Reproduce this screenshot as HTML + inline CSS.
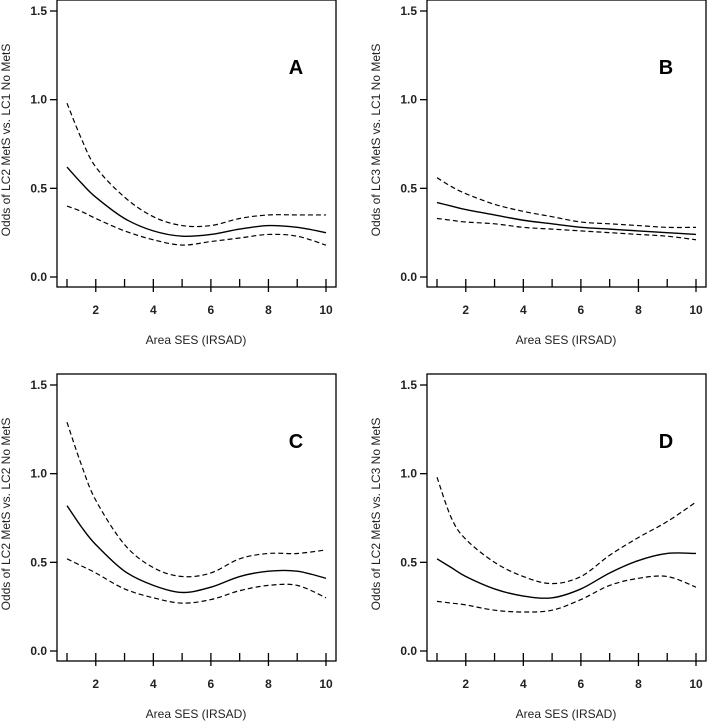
<!DOCTYPE html>
<html><head><meta charset="utf-8"><style>
html,body{margin:0;padding:0;background:#fff;}
svg{display:block;font-family:"Liberation Sans",Arial,sans-serif;}
</style></head><body>
<svg id="chart" width="708" height="721" viewBox="0 0 708 721"></svg>
<script>
const xs = [1,1.5,2,3,4,5,6,7,8,9,10];
const meanA = [0.62,0.53,0.45,0.33,0.26,0.23,0.24,0.27,0.29,0.28,0.25];
const upA   = [0.98,0.78,0.62,0.45,0.34,0.29,0.29,0.33,0.35,0.35,0.35];
const loA   = [0.40,0.37,0.33,0.26,0.21,0.18,0.20,0.22,0.24,0.23,0.18];
const meanB = [0.42,0.40,0.38,0.35,0.32,0.30,0.28,0.27,0.26,0.25,0.24];
const upB   = [0.56,0.51,0.47,0.41,0.37,0.34,0.31,0.30,0.29,0.28,0.28];
const loB   = [0.33,0.32,0.31,0.30,0.28,0.27,0.26,0.25,0.24,0.23,0.21];
const meanC = [0.82,0.70,0.60,0.45,0.37,0.33,0.36,0.42,0.45,0.45,0.41];
const upC   = [1.29,1.05,0.85,0.60,0.47,0.42,0.44,0.52,0.55,0.55,0.57];
const loC   = [0.52,0.48,0.44,0.35,0.30,0.27,0.29,0.34,0.37,0.37,0.30];
const meanD = [0.52,0.47,0.42,0.35,0.31,0.30,0.35,0.44,0.51,0.55,0.55];
const upD   = [0.98,0.75,0.63,0.50,0.42,0.38,0.42,0.54,0.64,0.73,0.84];
const loD   = [0.28,0.27,0.26,0.23,0.22,0.23,0.29,0.37,0.41,0.42,0.36];
const xTicks = [2,4,6,8,10];
const xMinor = [1,2,3,4,5,6,7,8,9,10];
const yTicks = [0.0,0.5,1.0,1.5];
const yTickLabels = ["0.0","0.5","1.0","1.5"];
const panelLetters = ["A","B","C","D"];
const yTitles = ["Odds of LC2 MetS vs. LC1 No MetS","Odds of LC3 MetS vs. LC1 No MetS","Odds of LC2 MetS vs. LC2 No MetS","Odds of LC2 MetS vs. LC3 No MetS"];

const NS="http://www.w3.org/2000/svg";
const svg=document.getElementById('chart');
function mk(tag,attrs,parent){const e=document.createElementNS(NS,tag);for(const k in attrs)e.setAttribute(k,attrs[k]);(parent||svg).appendChild(e);return e;}

const panels=[
 {dx:0,dy:0,mean:meanA,up:upA,lo:loA},
 {dx:370,dy:0,mean:meanB,up:upB,lo:loB},
 {dx:0,dy:374,mean:meanC,up:upC,lo:loC},
 {dx:370,dy:374,mean:meanD,up:upD,lo:loD}
];

function pathFor(vals,X,Y){
  const p=xs.map((x,i)=>[X(x),Y(vals[i])]);
  let d=`M${p[0][0]},${p[0][1]}`;
  for(let i=0;i<p.length-1;i++){
    const p0=p[Math.max(0,i-1)],p1=p[i],p2=p[i+1],p3=p[Math.min(p.length-1,i+2)];
    const c1=[p1[0]+(p2[0]-p0[0])/6,p1[1]+(p2[1]-p0[1])/6];
    const c2=[p2[0]-(p3[0]-p1[0])/6,p2[1]-(p3[1]-p1[1])/6];
    d+=` C${c1[0]},${c1[1]} ${c2[0]},${c2[1]} ${p2[0]},${p2[1]}`;
  }
  return d;
}

panels.forEach((P,pi)=>{
  const g=mk('g',{transform:`translate(${P.dx},${P.dy})`});
  
  
  const X=x=>67+(x-1)*(326-67)/9;
  const Y=y=>277-y*(266/1.5);
  const top=0,bottom=287,left=57,right=336;
  const box=mk('rect',{x:left,y:top,width:right-left,height:bottom-top,fill:'none',stroke:'#000','stroke-width':1.3},g);
  
  
  xMinor.forEach(t=>{
    const l=mk('line',{x1:X(t),x2:X(t),y1:bottom-8,y2:bottom,stroke:'#000','stroke-width':1.3},g);
    
    
  });
  xTicks.forEach(t=>{
    const l=mk('line',{x1:X(t),x2:X(t),y1:bottom,y2:bottom+5,stroke:'#000','stroke-width':1.3},g);
    
    
    const tx=mk('text',{x:X(t),y:314,'text-anchor':'middle','font-size':12,'font-weight':'bold',fill:'#222'},g);
    tx.textContent=t;
    
    
  });
  yTicks.forEach((t,i)=>{
    const l=mk('line',{x1:left-7,x2:left,y1:Y(t),y2:Y(t),stroke:'#000','stroke-width':1.3},g);
    
    
    const tx=mk('text',{x:left-10,y:Y(t)+4,'text-anchor':'end','font-size':12,'font-weight':'bold',fill:'#222'},g);
    tx.textContent=yTickLabels[i];
    
    
  });
  const xt=mk('text',{x:196,y:344,'text-anchor':'middle','font-size':12,fill:'#222'},g);
  xt.textContent='Area SES (IRSAD)';
  
  
  const yt=mk('text',{x:0,y:0,'text-anchor':'middle','font-size':12,fill:'#222',transform:`translate(${pi%2?10:10},140) rotate(-90)`},g);
  yt.textContent=yTitles[pi];
  
  
  const lt=mk('text',{x:296,y:74,'text-anchor':'middle','font-size':20,'font-weight':'bold',fill:'#000'},g);
  lt.textContent=panelLetters[pi];
  
  
  const u=mk('path',{d:pathFor(P.up,X,Y),fill:'none',stroke:'#000','stroke-width':1.2,'stroke-dasharray':'5,3'},g);
  
  
  const lo=mk('path',{d:pathFor(P.lo,X,Y),fill:'none',stroke:'#000','stroke-width':1.2,'stroke-dasharray':'5,3'},g);
  
  
  const m=mk('path',{d:pathFor(P.mean,X,Y),fill:'none',stroke:'#000','stroke-width':1.4},g);
  
  
});
</script>
</body></html>
